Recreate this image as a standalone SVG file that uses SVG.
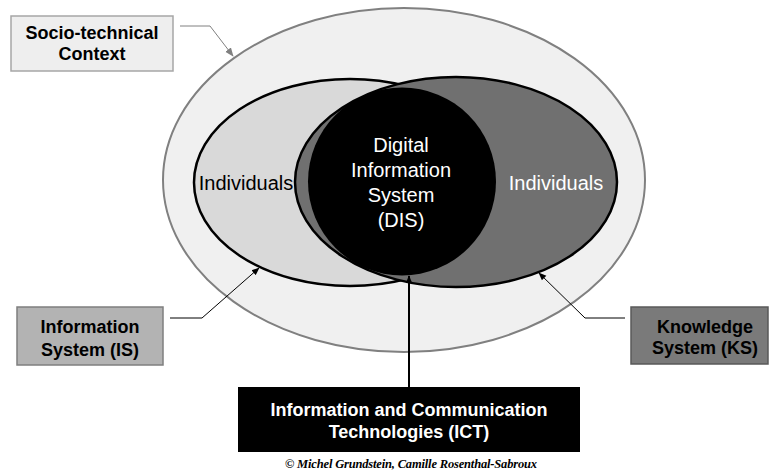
<svg xmlns="http://www.w3.org/2000/svg" width="769" height="472" viewBox="0 0 769 472">
<style>
.lbl{font-family:"Liberation Sans",Arial,sans-serif;font-size:18px;font-weight:bold;text-anchor:middle;fill:#000}
.big{font-family:"Liberation Sans",Arial,sans-serif;font-size:20px;text-anchor:middle}
.conn{fill:none;stroke:#000;stroke-width:1}
</style>
<defs>
<marker id="ah" viewBox="0 0 10 10" refX="9" refY="5" markerWidth="8" markerHeight="8" markerUnits="userSpaceOnUse" orient="auto"><path d="M0,1 L10,5 L0,9 z" fill="#000"/></marker>
<marker id="ahg" viewBox="0 0 10 10" refX="9" refY="5" markerWidth="9" markerHeight="9" markerUnits="userSpaceOnUse" orient="auto"><path d="M0,1 L10,5 L0,9 z" fill="#808080"/></marker>
</defs>
<rect width="769" height="472" fill="#fff"/>
<g id="context">
<ellipse cx="404" cy="180" rx="241" ry="172" fill="#f0f0f0" stroke="#808080" stroke-width="2"/>
</g>
<g id="is-ellipse">
<ellipse cx="350" cy="182.5" rx="156" ry="103.5" fill="#d9d9d9" stroke="#000" stroke-width="2.5"/>
</g>
<g id="ks-ellipse">
<ellipse cx="456" cy="182" rx="161" ry="105" fill="#707070" stroke="#000" stroke-width="2.5"/>
</g>
<g id="dis">
<circle cx="402" cy="181.5" r="94" fill="#000"/>
<text class="big" fill="#fff" x="401" y="152">Digital</text>
<text class="big" fill="#fff" x="401" y="177">Information</text>
<text class="big" fill="#fff" x="401" y="202">System</text>
<text class="big" fill="#fff" x="401" y="227">(DIS)</text>
</g>
<g id="individuals-is"><text class="big" fill="#000" x="246" y="190">Individuals</text></g>
<g id="individuals-ks"><text class="big" fill="#fff" x="556" y="190">Individuals</text></g>
<g id="connectors">
<polyline class="conn" points="180,26 210,26 233,56" style="stroke:#808080" marker-end="url(#ahg)"/>
<polyline class="conn" points="170,318 202,318 259,268" marker-end="url(#ah)"/>
<polyline class="conn" points="625,318 585,318 539,273" marker-end="url(#ah)"/>
<line x1="409" y1="387" x2="409" y2="276" stroke="#000" stroke-width="2" marker-end="url(#ah)"/>
</g>
<g id="socio-box">
<rect x="11" y="16" width="162" height="55" fill="#eeeeee" stroke="#a6a6a6" stroke-width="1.5"/>
<text class="lbl" x="92" y="39">Socio-technical</text>
<text class="lbl" x="92" y="60">Context</text>
</g>
<g id="is-box">
<rect x="17" y="307" width="146" height="58" fill="#b3b3b3" stroke="#7f7f7f" stroke-width="1.5"/>
<text class="lbl" x="90" y="333">Information</text>
<text class="lbl" x="90" y="356">System (IS)</text>
</g>
<g id="ks-box">
<rect x="631" y="307" width="137" height="57" fill="#7a7a7a" stroke="#595959" stroke-width="1.5"/>
<text class="lbl" x="705" y="333">Knowledge</text>
<text class="lbl" x="705" y="354">System (KS)</text>
</g>
<g id="ict-box">
<rect x="238" y="387" width="342" height="65" fill="#000"/>
<text class="lbl" style="fill:#fff" x="409" y="416">Information and Communication</text>
<text class="lbl" style="fill:#fff" x="409" y="438">Technologies (ICT)</text>
</g>
<text x="411" y="468" font-family="'Liberation Serif','Times New Roman',serif" font-size="12.5" font-style="italic" font-weight="bold" text-anchor="middle" textLength="252" lengthAdjust="spacing" fill="#000">© Michel Grundstein,  Camille Rosenthal-Sabroux</text>
</svg>
